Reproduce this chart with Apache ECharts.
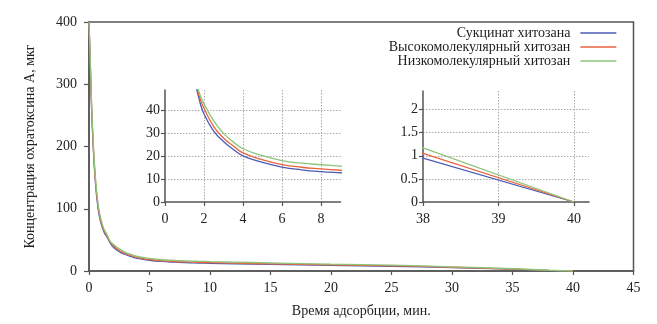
<!DOCTYPE html>
<html>
<head>
<meta charset="utf-8">
<script src="https://cdn.jsdelivr.net/npm/echarts@6/dist/echarts.min.js"></script>
<style>
  html, body { margin: 0; padding: 0; background: #fff; }
  #chart { width: 657px; height: 324px; }
</style>
</head>
<body>
<div id="chart"></div>
<script>
// Adsorption time, min
const time = [0, 0.1, 0.2, 0.3, 0.5, 0.75, 1, 1.25, 1.5, 1.75, 2, 2.5, 3, 3.5, 4, 5, 6, 7, 8, 9, 10, 12, 15, 20, 25, 30, 35, 38, 40];

// Ochratoxin A remaining, µg
const succinate = [400, 335, 270, 220, 150, 100, 76, 62, 54, 45, 38.5, 31, 26.5, 23, 20.2, 17.3, 15.3, 14.1, 13.3, 12.8, 12.4, 11.6, 10.5, 9, 7.6, 5.4, 2.9, 0.95, 0];
const highMw    = [400, 338, 274, 224, 154, 104, 79, 64.5, 56, 46.5, 41, 33, 28, 24.5, 21.5, 18.5, 16.4, 15.2, 14.5, 13.9, 13.4, 12.6, 11.5, 9.8, 8.3, 6, 3.2, 1.05, 0];
const lowMw     = [400, 341, 278, 228, 158, 108, 82, 67, 58, 48, 43, 35.5, 30, 26.3, 23.3, 20.3, 18.1, 17, 16.3, 15.7, 15.2, 14.3, 13, 11, 9.3, 6.7, 3.6, 1.17, 0];

const seriesNames = ['Сукцинат хитозана', 'Высокомолекулярный хитозан', 'Низкомолекулярный хитозан'];
const seriesValues = [succinate, highMw, lowMw];
const colors = ['#4b5cb5', '#e8643c', '#8cc47a'];

const xMainTicks = 5, yMainTicks = 100;

const FONT = '"Liberation Serif", "DejaVu Serif", serif';
const AXIS_COLOR = '#555';
const TEXT_COLOR = '#222';

function pairs(values) {
  return time.map((t, i) => [t, values[i]]);
}

function axisBase(extra) {
  return Object.assign({
    type: 'value',
    axisLine: { show: true, onZero: false, lineStyle: { color: AXIS_COLOR, width: 1.5 } },
    axisTick: { show: true, inside: false, length: 4, lineStyle: { color: AXIS_COLOR, width: 1.2 } },
    axisLabel: { color: TEXT_COLOR, fontFamily: FONT, fontSize: 14, showMaxLabel: false },
    splitLine: { show: false },
    nameTextStyle: { color: TEXT_COLOR, fontFamily: FONT, fontSize: 14 }
  }, extra);
}

const dotted = { show: true, showMaxLine: false, showMinLine: false, lineStyle: { color: '#aaa', type: [1.5, 1.5], width: 1 } };

const series = [];
// main plot, inset 0–9 min, inset 38–40 min
[0, 1, 2].forEach(g => {
  seriesValues.forEach((vals, i) => {
    series.push({
      type: 'line',
      name: seriesNames[i],
      xAxisIndex: g,
      yAxisIndex: g,
      data: pairs(vals),
      showSymbol: false,
      symbol: 'none',
      smooth: g === 2 ? false : 0.5,
      clip: true,
      lineStyle: { color: colors[i], width: 1.3 },
      itemStyle: { color: colors[i] },
      z: 3 + i,
      silent: true
    });
  });
});

const option = {
  animation: false,
  backgroundColor: '#fff',
  legend: {
    orient: 'vertical',
    right: 40,
    top: 26,
    padding: 0,
    align: 'right',
    itemWidth: 36,
    itemHeight: 14,
    itemGap: 0,
    data: seriesNames,
    itemStyle: { color: 'rgba(0,0,0,0)', borderColor: 'rgba(0,0,0,0)', borderWidth: 0, opacity: 0 },
    lineStyle: { width: 1.3 },
    textStyle: { color: TEXT_COLOR, fontFamily: FONT, fontSize: 14, lineHeight: 14, padding: [0, 5, 0, 0] }
  },
  grid: [
    { left: 89, right: 23.5, top: 22, bottom: 53, show: true, borderColor: AXIS_COLOR, borderWidth: 1.5, containLabel: false },
    { left: 165, top: 90, width: 175.5, height: 112, containLabel: false },
    { left: 423, top: 91, width: 166, height: 111, containLabel: false }
  ],
  xAxis: [
    axisBase({
      gridIndex: 0, min: 0, max: 45, interval: xMainTicks,
      name: 'Время адсорбции, мин.', nameLocation: 'middle', nameGap: 33,
      axisLabel: { color: TEXT_COLOR, fontFamily: FONT, fontSize: 14, margin: 10 }
    }),
    axisBase({
      gridIndex: 1, min: 0, max: 9, interval: 2,
      axisLabel: { color: TEXT_COLOR, fontFamily: FONT, fontSize: 14, margin: 10, showMaxLabel: false },
      splitLine: dotted
    }),
    axisBase({
      gridIndex: 2, min: 38, max: 40.2, interval: 1,
      axisLabel: { color: TEXT_COLOR, fontFamily: FONT, fontSize: 14, margin: 10, showMaxLabel: false },
      splitLine: dotted
    })
  ],
  yAxis: [
    axisBase({
      gridIndex: 0, min: 0, max: 400, interval: yMainTicks,
      name: 'Концентрация охратоксина А, мкг', nameLocation: 'middle', nameGap: 52,
      axisTick: { show: true, inside: false, length: 5, lineStyle: { color: AXIS_COLOR, width: 1.2 } },
      axisLabel: { color: TEXT_COLOR, fontFamily: FONT, fontSize: 14, margin: 12, showMaxLabel: true }
    }),
    axisBase({
      gridIndex: 1, min: 0, max: 49, interval: 10,
      axisLabel: { color: TEXT_COLOR, fontFamily: FONT, fontSize: 14, margin: 5, showMaxLabel: false },
      splitLine: dotted
    }),
    axisBase({
      gridIndex: 2, min: 0, max: 2.4, interval: 0.5,
      axisLabel: { color: TEXT_COLOR, fontFamily: FONT, fontSize: 14, margin: 5, showMaxLabel: false },
      splitLine: dotted
    })
  ],
  series: series
};

const chart = echarts.init(document.getElementById('chart'), null, { renderer: 'canvas' });
chart.setOption(option);
</script>
</body>
</html>
